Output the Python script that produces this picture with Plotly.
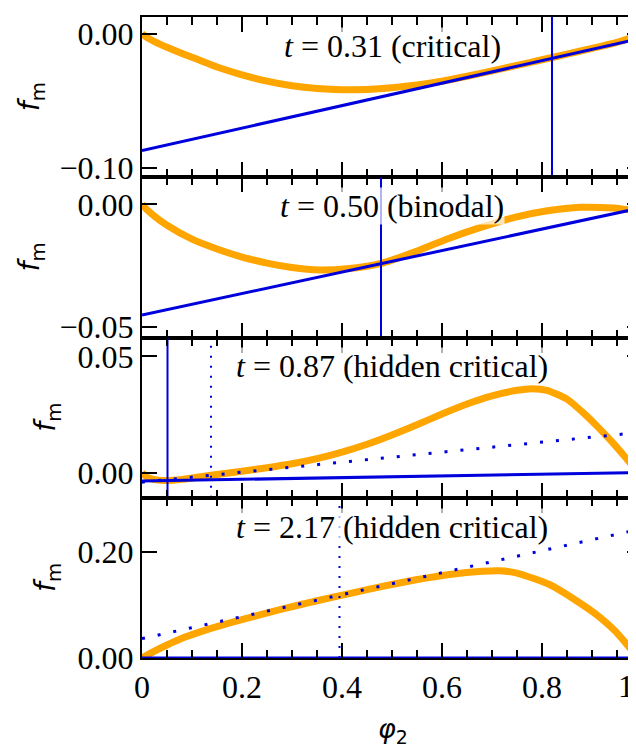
import plotly.graph_objects as go
from plotly.subplots import make_subplots

# ---------------- data ----------------
panel_titles = ["0.31 (critical)", "0.50 (binodal)", "0.87 (hidden critical)", "2.17 (hidden critical)"]

# orange: mixing free energy f_m(phi_2)
phi_a = [0.0, 0.01, 0.025, 0.05, 0.1, 0.15, 0.2, 0.25, 0.3, 0.35, 0.4, 0.45, 0.5, 0.55, 0.6,
         0.65, 0.7, 0.75, 0.8, 0.85, 0.9, 0.95, 0.97, 0.98, 0.99, 1.0]
fm_a = [0.0, -0.0028, -0.0058, -0.0100, -0.0176, -0.0248, -0.0306, -0.0353, -0.0388, -0.0409,
        -0.0418, -0.0415, -0.0402, -0.0381, -0.0354, -0.0317, -0.0277, -0.0236, -0.0194, -0.0152,
        -0.0109, -0.0064, -0.0040, -0.0027, -0.0014, 0.0]

phi_b = [0.0, 0.01, 0.025, 0.05, 0.1, 0.15, 0.2, 0.25, 0.3, 0.355, 0.41, 0.476, 0.546, 0.612, 0.679,
         0.745, 0.811, 0.878, 0.944, 0.981, 0.995, 1.0]
fm_b = [0.0, -0.0022, -0.0048, -0.0085, -0.0142, -0.0182, -0.0215, -0.0240, -0.0258, -0.0268,
        -0.0263, -0.0242, -0.0194, -0.0140, -0.0093, -0.0053, -0.0026, -0.0012, -0.0015, -0.0022,
        -0.0012, 0.0]

phi_c = [0.0, 0.01, 0.025, 0.051, 0.08, 0.11, 0.138, 0.2, 0.25, 0.3, 0.35, 0.4, 0.45, 0.5, 0.55,
         0.6, 0.65, 0.7, 0.75, 0.78, 0.81, 0.85, 0.88, 0.91, 0.94, 0.97, 0.99, 1.0]
fm_c = [0.0, -0.0020, -0.0030, -0.0034, -0.0029, -0.0020, -0.0011, 0.0006, 0.0021, 0.0038, 0.0060,
        0.0088, 0.0122, 0.0162, 0.0206, 0.0252, 0.0295, 0.0330, 0.0354, 0.0361, 0.0354, 0.0316,
        0.0262, 0.0200, 0.0132, 0.0058, 0.0008, 0.0]

phi_d = [0.0, 0.025, 0.049, 0.08, 0.116, 0.15, 0.183, 0.249, 0.316, 0.348, 0.415, 0.481, 0.548,
         0.615, 0.681, 0.715, 0.748, 0.815, 0.881, 0.915, 0.948, 0.981, 0.99, 1.0]
fm_d = [0.0, 0.013, 0.024, 0.037, 0.049, 0.059, 0.068, 0.0845, 0.100, 0.107, 0.121, 0.1345, 0.147,
        0.157, 0.163, 0.164, 0.160, 0.138, 0.100, 0.077, 0.049, 0.013, 0.004, 0.0]

# blue tangent lines (endpoints at phi_2 = 0 and 1)
tan_phi = [0.0, 1.0]
tan_solid = [[-0.0871, -0.0033], [-0.0452, -0.0013], [-0.0036, 0.0000], [0.0, 0.0]]
tan_dotted = [None, None, [-0.0041, 0.0174], [0.0364, 0.2428]]

# vertical markers
vert_solid = [[0.82], [0.478, 0.981], [0.051], []]
vert_dotted = [[], [], [0.138], [0.395]]

# axes
y_ranges = [[-0.107, 0.0125], [-0.0544, 0.0111], [-0.0108, 0.0581], [0.0, 0.301]]
y_ticks = [[-0.10, 0.0], [-0.05, 0.0], [0.0, 0.05], [0.0, 0.20]]
x_ticks = [0, 0.2, 0.4, 0.6, 0.8]
x_ticktext = ["0", "0.2", "0.4", "0.6", "0.8"]

orange_phis = [phi_a, phi_b, phi_c, phi_d]
orange_fms = [fm_a, fm_b, fm_c, fm_d]

ORANGE = "#FFA500"
BLUE = "#0000DD"
SERIF = "Liberation Serif"
SANS = "DejaVu Sans"

fig = make_subplots(rows=4, cols=1, shared_xaxes=True, vertical_spacing=0)

for i in range(4):
    r = i + 1
    fig.add_trace(go.Scatter(x=orange_phis[i], y=orange_fms[i], mode="lines",
                             line=dict(color=ORANGE, width=7, shape="spline", smoothing=0.6),
                             hoverinfo="skip"), row=r, col=1)
    fig.add_trace(go.Scatter(x=tan_phi, y=tan_solid[i], mode="lines",
                             line=dict(color=BLUE, width=3), hoverinfo="skip"), row=r, col=1)
    if tan_dotted[i] is not None:
        fig.add_trace(go.Scatter(x=tan_phi, y=tan_dotted[i], mode="lines",
                                 line=dict(color=BLUE, width=3, dash="3px,13px"),
                                 hoverinfo="skip"), row=r, col=1)
    for v in vert_solid[i]:
        fig.add_trace(go.Scatter(x=[v, v], y=y_ranges[i], mode="lines",
                                 line=dict(color=BLUE, width=2), hoverinfo="skip"), row=r, col=1)
    for v in vert_dotted[i]:
        fig.add_trace(go.Scatter(x=[v, v], y=y_ranges[i], mode="lines",
                                 line=dict(color=BLUE, width=2, dash="2px,8px"),
                                 hoverinfo="skip"), row=r, col=1)

    fig.update_xaxes(row=r, col=1, range=[0, 1.0], showline=True, linecolor="black", linewidth=2,
                     mirror="ticks", ticks="inside", ticklen=15, tickwidth=1.5, tickcolor="black",
                     tickvals=x_ticks, ticktext=x_ticktext, showticklabels=(r == 4),
                     tickfont=dict(family=SERIF, size=32, color="black"), ticklabelstandoff=0,
                     showgrid=False, zeroline=False,
                     minor=dict(ticks="inside", ticklen=8, tickwidth=1.5, tickcolor="black",
                                dtick=0.05, tick0=0, showgrid=False))
    fig.update_yaxes(row=r, col=1, range=y_ranges[i], showline=True, linecolor="black", linewidth=2,
                     mirror="ticks", ticks="inside", ticklen=15, tickwidth=1.5, tickcolor="black",
                     tickvals=y_ticks[i], tickformat=".2f",
                     tickfont=dict(family=SERIF, size=32, color="black"), ticklabelstandoff=0,
                     showgrid=False, zeroline=False)

annotations = []
ylabel_x = [-0.222, -0.222, -0.188, -0.188]
for i in range(4):
    xs = "x" if i == 0 else f"x{i+1}"
    ys = "y" if i == 0 else f"y{i+1}"
    annotations.append(dict(text="<i>t</i> = " + panel_titles[i], xref=xs, x=0.5,
                            yref=ys + " domain", y=0.82, xanchor="center", yanchor="middle",
                            showarrow=False, font=dict(family=SERIF, size=32, color="black"),
                            bgcolor="rgba(255,255,255,0.7)", borderpad=0))
    annotations.append(dict(text="<i>f</i><sub>m</sub>", xref="paper", x=ylabel_x[i],
                            yref=ys + " domain", y=0.5, xanchor="center", yanchor="middle",
                            textangle=-90, showarrow=False,
                            font=dict(family=SANS, size=28, color="black")))
annotations.append(dict(text="<i>φ</i><sub>2</sub>", xref="paper", x=0.502, yref="paper", y=-0.1125,
                        xanchor="center", yanchor="middle", showarrow=False,
                        font=dict(family=SANS, size=27, color="black")))
annotations.append(dict(text="1", xref="paper", x=0.988, yref="paper", y=-0.0435,
                        xanchor="right", yanchor="middle", showarrow=False,
                        font=dict(family=SERIF, size=32, color="black")))

# page body has an 8px margin: figure is offset so the plot lands where the reference has it;
# the right end of the axes (phi_2 = 1) lies just past the visible window, as in the reference.
fig.update_layout(width=654, height=739, margin=dict(l=134, r=20, t=7, b=89),
                  plot_bgcolor="white", paper_bgcolor="white", showlegend=False,
                  annotations=annotations)

fig.write_html("out.html")
